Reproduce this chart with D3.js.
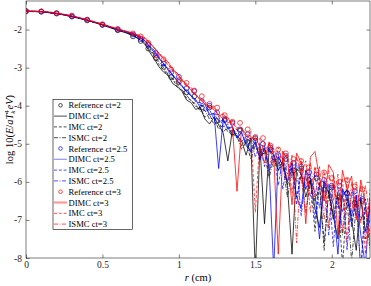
<!DOCTYPE html>
<html>
<head>
<meta charset="utf-8">
<script src="https://cdn.jsdelivr.net/npm/d3@7"></script>
<style>
  body { margin: 0; background: #fff; }
  svg { display: block; }
  svg text { font-family: "Times New Roman", "Liberation Serif", Times, serif; }
</style>
</head>
<body>
<svg width="371" height="286"></svg>
<script>
// radial grid shared by the transport curves
const rLine = [0, 0.05, 0.1, 0.15, 0.2, 0.25, 0.3, 0.35, 0.4, 0.45, 0.5, 0.55, 0.6, 0.65, 0.7, 0.75,
  0.78, 0.81, 0.84, 0.87, 0.90, 0.93, 0.96, 0.99, 1.02, 1.05,
  1.08, 1.11, 1.14, 1.17, 1.20, 1.23, 1.26, 1.29, 1.32, 1.35,
  1.38, 1.41, 1.44, 1.47, 1.50, 1.53, 1.56, 1.59, 1.62, 1.65,
  1.68, 1.71, 1.74, 1.77, 1.80, 1.83, 1.86, 1.89, 1.92, 1.95,
  1.98, 2.01, 2.04, 2.07, 2.10, 2.13, 2.16, 2.19, 2.22, 2.25];

// radial positions of the reference markers
const rRef = [0, 0.1, 0.2, 0.3, 0.4, 0.5, 0.6, 0.7, 0.75, 0.8, 0.85, 0.9, 0.95, 1.0, 1.05, 1.1, 1.15,
  1.2, 1.25, 1.3, 1.35, 1.4, 1.45, 1.5, 1.55, 1.6, 1.65, 1.7, 1.75, 1.8, 1.85, 1.9, 1.95, 2.0,
  2.05, 2.1, 2.15, 2.2];

// ct = 2
const ref2 = [-1.52, -1.53, -1.58, -1.66, -1.76, -1.88, -2.02, -2.18,
  -2.30, -2.50, -2.75, -2.98, -3.25, -3.38, -3.65, -3.76, -4.05, -4.05,
  -4.40, -4.38, -4.70, -4.65, -4.95, -4.92, -5.20, -5.15, -5.45, -5.40,
  -5.70, -5.65, -5.95, -5.90, -6.20, -6.15, -6.40, -6.30, -6.55, -6.50];
const dimc2 = [-1.52, -1.52, -1.53, -1.56, -1.58, -1.62, -1.66, -1.71, -1.76, -1.82, -1.88, -1.95, -2.02, -2.08, -2.16, -2.28,
  -2.40, -2.60, -2.78, -2.98, -3.12, -3.20, -3.42, -3.50, -3.62, -3.85,
  -3.92, -4.10, -4.05, -4.35, -4.48, -4.30, -4.50, -4.72, -5.45, -4.65,
  -4.80, -4.92, -5.30, -4.85, -8.40, -5.05, -7.10, -5.15, -5.30, -5.70,
  -5.45, -6.10, -7.90, -5.65, -5.80, -6.40, -5.95, -6.70, -7.20, -6.00,
  -6.30, -6.90, -7.50, -6.35, -6.20, -7.00, -7.80, -6.45, -7.30, -6.70];
const imc2 = [-1.52, -1.53, -1.53, -1.55, -1.59, -1.61, -1.65, -1.70, -1.76, -1.81, -1.88, -1.94, -2.01, -2.07, -2.14, -2.26,
  -2.38, -2.55, -2.72, -2.92, -3.05, -3.22, -3.30, -3.52, -3.60, -3.80,
  -3.85, -4.02, -4.05, -4.30, -4.22, -4.50, -4.40, -4.70, -4.55, -4.80,
  -4.72, -5.05, -4.90, -5.25, -5.00, -5.40, -5.15, -5.75, -5.30, -5.60,
  -5.50, -6.10, -5.60, -6.40, -5.80, -6.20, -5.95, -7.30, -6.00, -7.80,
  -6.20, -6.90, -6.30, -8.20, -6.40, -7.10, -6.50, -8.30, -6.60, -7.40];
const ismc2 = [-1.52, -1.52, -1.54, -1.55, -1.58, -1.62, -1.66, -1.70, -1.75, -1.82, -1.87, -1.95, -2.01, -2.08, -2.15, -2.27,
  -2.35, -2.50, -2.68, -2.85, -3.00, -3.18, -3.28, -3.45, -3.58, -3.72,
  -3.88, -3.95, -4.15, -4.12, -4.35, -4.32, -4.62, -4.50, -4.68, -4.75,
  -4.80, -5.15, -4.95, -5.40, -5.05, -5.30, -5.25, -5.90, -5.40, -5.70,
  -5.55, -6.40, -5.70, -6.00, -5.85, -6.80, -6.00, -6.50, -6.10, -7.60,
  -6.25, -7.00, -6.35, -7.40, -6.45, -8.10, -6.55, -7.00, -6.65, -7.80];

// ct = 2.5
const ref25 = [-1.52, -1.53, -1.57, -1.65, -1.74, -1.87, -2.00, -2.13,
  -2.25, -2.40, -2.62, -2.89, -3.12, -3.24, -3.54, -3.62, -3.88, -4.00,
  -4.18, -4.35, -4.45, -4.62, -4.75, -4.85, -5.00, -5.10, -5.30, -5.32,
  -5.50, -5.60, -5.75, -5.80, -5.95, -6.10, -6.10, -6.30, -6.25, -6.45];
const dimc25 = [-1.52, -1.52, -1.53, -1.55, -1.58, -1.61, -1.65, -1.70, -1.75, -1.81, -1.87, -1.93, -2.00, -2.05, -2.11, -2.21,
  -2.30, -2.45, -2.55, -2.75, -2.90, -3.05, -3.20, -3.35, -3.50, -3.62,
  -3.75, -3.85, -4.05, -3.95, -4.25, -4.20, -5.65, -4.35, -4.60, -4.55,
  -4.85, -4.70, -5.05, -5.20, -4.95, -5.40, -5.10, -5.60, -8.30, -5.35,
  -5.55, -6.00, -5.50, -6.40, -6.70, -5.70, -5.90, -6.30, -7.50, -6.00,
  -6.15, -6.60, -7.90, -6.20, -6.45, -6.90, -6.35, -7.40, -8.20, -6.50];
const imc25 = [-1.52, -1.53, -1.53, -1.55, -1.58, -1.62, -1.65, -1.70, -1.75, -1.81, -1.87, -1.94, -2.00, -2.06, -2.12, -2.22,
  -2.30, -2.44, -2.62, -2.70, -2.95, -3.02, -3.22, -3.32, -3.48, -3.62,
  -3.70, -3.90, -3.92, -4.15, -4.10, -4.35, -4.28, -4.55, -4.48, -4.75,
  -4.62, -4.95, -4.80, -5.20, -4.90, -5.45, -5.05, -5.70, -5.20, -6.10,
  -5.35, -5.80, -5.50, -6.60, -5.65, -6.20, -5.80, -7.00, -5.90, -6.50,
  -6.05, -7.70, -6.15, -6.80, -6.25, -7.20, -6.35, -8.40, -6.45, -7.10];
const ismc25 = [-1.52, -1.52, -1.53, -1.55, -1.58, -1.61, -1.65, -1.70, -1.76, -1.81, -1.87, -1.93, -2.00, -2.06, -2.12, -2.22,
  -2.31, -2.46, -2.60, -2.76, -2.88, -3.08, -3.18, -3.38, -3.45, -3.66,
  -3.72, -3.85, -3.98, -4.05, -4.20, -4.22, -4.40, -4.38, -4.62, -4.55,
  -4.85, -4.70, -5.00, -4.82, -5.35, -5.00, -5.60, -5.10, -5.50, -5.25,
  -6.20, -5.40, -5.90, -5.50, -6.90, -5.70, -6.40, -5.80, -6.70, -5.95,
  -7.40, -6.05, -6.70, -6.15, -7.80, -6.25, -6.90, -6.35, -7.50, -6.40];

// ct = 3
const ref3 = [-1.51, -1.52, -1.57, -1.63, -1.74, -1.86, -1.98, -2.10,
  -2.18, -2.35, -2.68, -2.78, -3.05, -3.33, -3.40, -3.60, -3.75, -3.95,
  -4.05, -4.25, -4.42, -4.45, -4.62, -4.82, -4.85, -5.05, -5.15, -5.25,
  -5.40, -5.45, -5.62, -5.70, -5.75, -5.90, -6.00, -5.95, -6.12, -6.20];
const dimc3 = [-1.51, -1.52, -1.52, -1.54, -1.57, -1.60, -1.64, -1.69, -1.74, -1.80, -1.86, -1.92, -1.98, -2.04, -2.09, -2.17,
  -2.22, -2.35, -2.48, -2.62, -2.75, -2.85, -3.05, -3.15, -3.32, -3.45,
  -3.60, -3.70, -3.85, -3.95, -4.05, -4.10, -4.25, -4.35, -4.30, -4.55,
  -6.25, -4.60, -4.75, -4.90, -4.80, -5.10, -5.50, -4.95, -5.30, -7.90,
  -5.20, -5.40, -6.60, -5.25, -5.50, -7.10, -5.35, -5.20, -5.90, -6.50,
  -5.55, -5.75, -7.40, -5.70, -6.20, -5.85, -7.00, -5.95, -6.60, -7.60];
const imc3 = [-1.52, -1.52, -1.53, -1.54, -1.57, -1.61, -1.64, -1.69, -1.75, -1.80, -1.86, -1.93, -1.99, -2.04, -2.10, -2.19,
  -2.26, -2.36, -2.50, -2.62, -2.78, -2.92, -3.05, -3.15, -3.35, -3.42,
  -3.58, -3.70, -3.85, -3.90, -4.05, -4.05, -4.25, -4.22, -4.45, -4.40,
  -4.65, -4.55, -4.90, -4.65, -6.80, -4.85, -5.20, -5.00, -5.60, -5.10,
  -5.50, -5.25, -6.30, -5.35, -5.80, -5.45, -6.80, -5.60, -6.20, -5.70,
  -7.20, -5.80, -6.60, -5.90, -7.60, -6.00, -6.70, -6.10, -7.90, -6.20];
const ismc3 = [-1.51, -1.52, -1.53, -1.54, -1.57, -1.60, -1.64, -1.69, -1.74, -1.80, -1.86, -1.92, -1.99, -2.05, -2.10, -2.18,
  -2.24, -2.38, -2.48, -2.66, -2.75, -2.95, -3.02, -3.22, -3.30, -3.50,
  -3.52, -3.72, -3.82, -3.88, -4.08, -4.00, -4.30, -4.18, -4.40, -4.45,
  -4.58, -4.60, -4.75, -4.80, -4.90, -5.30, -4.95, -5.60, -5.10, -5.50,
  -5.20, -6.00, -5.30, -7.60, -5.40, -6.10, -5.50, -6.40, -5.60, -7.00,
  -5.70, -6.50, -5.80, -7.30, -5.90, -6.80, -6.00, -7.10, -6.10, -6.90];

const xTicks = [0, 0.5, 1, 1.5, 2];
const yTicks = [-8, -7, -6, -5, -4, -3, -2];

const series = [
  { label: "Reference ct=2", kind: "ref", color: "#000000", x: rRef, y: ref2 },
  { label: "DIMC ct=2", kind: "solid", color: "#000000", x: rLine, y: dimc2 },
  { label: "IMC ct=2", kind: "dash", color: "#000000", x: rLine, y: imc2 },
  { label: "ISMC ct=2", kind: "dashdot", color: "#000000", x: rLine, y: ismc2 },
  { label: "Reference ct=2.5", kind: "ref", color: "#0000ff", x: rRef, y: ref25 },
  { label: "DIMC ct=2.5", kind: "solid", color: "#0000ff", x: rLine, y: dimc25 },
  { label: "IMC ct=2.5", kind: "dash", color: "#0000ff", x: rLine, y: imc25 },
  { label: "ISMC ct=2.5", kind: "dashdot", color: "#0000ff", x: rLine, y: ismc25 },
  { label: "Reference ct=3", kind: "ref", color: "#ff0000", x: rRef, y: ref3 },
  { label: "DIMC ct=3", kind: "solid", color: "#ff0000", x: rLine, y: dimc3 },
  { label: "IMC ct=3", kind: "dash", color: "#ff0000", x: rLine, y: imc3 },
  { label: "ISMC ct=3", kind: "dashdot", color: "#ff0000", x: rLine, y: ismc3 }
];

const dashes = { solid: null, dash: "3,1.8", dashdot: "4,1.5,1,1.5" };
const serif = "Times New Roman, Liberation Serif, Times, serif";

const pLeft = 26, pRight = 370, pTop = 1, pBottom = 258;
const svg = d3.select("svg");
const x = d3.scaleLinear().domain([0, 2.25]).range([pLeft, pRight]);
const y = d3.scaleLinear().domain([-8, -1.25]).range([pBottom, pTop]);

svg.append("defs").append("clipPath").attr("id", "plotclip")
  .append("rect").attr("x", pLeft).attr("y", pTop)
  .attr("width", pRight - pLeft).attr("height", pBottom - pTop);

const plot = svg.append("g").attr("clip-path", "url(#plotclip)");

const line = d3.line().x(d => x(d[0])).y(d => y(d[1]));

series.forEach(s => {
  const pts = s.x.map((v, i) => [v, s.y[i]]);
  if (s.kind === "ref") {
    plot.append("g").selectAll("circle")
      .data(pts)
      .join("circle")
      .attr("cx", d => x(d[0]))
      .attr("cy", d => y(d[1]))
      .attr("r", 2.4)
      .attr("fill", "none")
      .attr("stroke", s.color)
      .attr("stroke-width", 0.7);
  } else {
    plot.append("path")
      .datum(pts)
      .attr("d", line)
      .attr("fill", "none")
      .attr("stroke", s.color)
      .attr("stroke-width", s.kind === "solid" ? 0.9 : 0.7)
      .attr("stroke-opacity", s.kind === "solid" ? 0.85 : 1)
      .attr("stroke-dasharray", dashes[s.kind]);
  }
});

// axes, MATLAB style box with inward ticks
const axisColor = "#262626";
const gx = svg.append("g").attr("transform", `translate(0,${pBottom})`)
  .call(d3.axisBottom(x).tickValues(xTicks).tickFormat(d3.format("")).tickSize(-3.5).tickPadding(3));
const gxTop = svg.append("g").attr("transform", `translate(0,${pTop})`)
  .call(d3.axisTop(x).tickValues(xTicks).tickFormat("").tickSize(-3.5));
const gy = svg.append("g").attr("transform", `translate(${pLeft},0)`)
  .call(d3.axisLeft(y).tickValues(yTicks).tickFormat(d3.format("")).tickSize(-3.5).tickPadding(4));
const gyRight = svg.append("g").attr("transform", `translate(${pRight},0)`)
  .call(d3.axisRight(y).tickValues(yTicks).tickFormat("").tickSize(-3.5));

[gx, gxTop, gy, gyRight].forEach(g => {
  g.attr("font-family", serif).attr("font-size", 9.5);
  g.select(".domain").remove();
  g.selectAll("line").attr("stroke", axisColor).attr("stroke-width", 0.6);
  g.selectAll("text").attr("fill", axisColor);
});
gy.selectAll("text").text(d => "-" + Math.abs(d));

svg.append("rect")
  .attr("x", pLeft).attr("y", pTop)
  .attr("width", pRight - pLeft).attr("height", pBottom - pTop)
  .attr("fill", "none").attr("stroke", axisColor).attr("stroke-width", 0.6);

// axis labels
const xl = svg.append("text")
  .attr("x", (pLeft + pRight) / 2).attr("y", 281)
  .attr("text-anchor", "middle").attr("font-family", serif)
  .attr("font-size", 10.5).attr("fill", "#000");
xl.append("tspan").attr("font-style", "italic").text("r");
xl.append("tspan").text(" (cm)");

const yl = svg.append("text")
  .attr("transform", `translate(12.5,${(pTop + pBottom) / 2}) rotate(-90)`)
  .attr("text-anchor", "middle").attr("font-family", serif)
  .attr("font-size", 10.5).attr("fill", "#000");
yl.append("tspan").text("log 10(");
yl.append("tspan").attr("font-style", "italic").text("E");
yl.append("tspan").text("/");
yl.append("tspan").attr("font-style", "italic").text("aT");
yl.append("tspan").attr("font-style", "italic").attr("font-size", 7).attr("dy", 2.5).text("k");
yl.append("tspan").attr("font-size", 7).attr("dx", -3.2).attr("dy", -6.3).text("4");
yl.append("tspan").attr("font-style", "italic").attr("dx", 0.8).attr("dy", 3.8).text("eV");
yl.append("tspan").text(")");

// legend
const lgX = 53, lgY = 99.5, lgW = 79.5, lgH = 130, rowH = 10.8;
const legend = svg.append("g");
legend.append("rect")
  .attr("x", lgX).attr("y", lgY).attr("width", lgW).attr("height", lgH)
  .attr("fill", "#fff").attr("stroke", "#000").attr("stroke-width", 0.6);

const rows = legend.selectAll("g.row")
  .data(series)
  .join("g")
  .attr("class", "row")
  .attr("transform", (d, i) => `translate(${lgX},${lgY + 5.8 + i * rowH})`);

rows.each(function (s) {
  const g = d3.select(this);
  if (s.kind === "ref") {
    g.append("circle").attr("cx", 7.5).attr("cy", 0).attr("r", 1.8)
      .attr("fill", "none").attr("stroke", s.color).attr("stroke-width", 0.7);
  } else {
    const wide = s.kind === "solid" && s.color !== "#000000";
    g.append("line").attr("x1", 1).attr("x2", 14).attr("y1", 0).attr("y2", 0)
      .attr("stroke", s.color)
      .attr("stroke-width", wide ? (s.color === "#ff0000" ? 2.2 : 1.3) : 0.7)
      .attr("stroke-opacity", wide ? 0.4 : 1)
      .attr("stroke-dasharray", dashes[s.kind]);
  }
  g.append("text").attr("x", 15.5).attr("y", 3)
    .attr("font-family", serif).attr("font-size", 8.6)
    .attr("fill", "#000").text(s.label);
});
</script>
</body>
</html>
